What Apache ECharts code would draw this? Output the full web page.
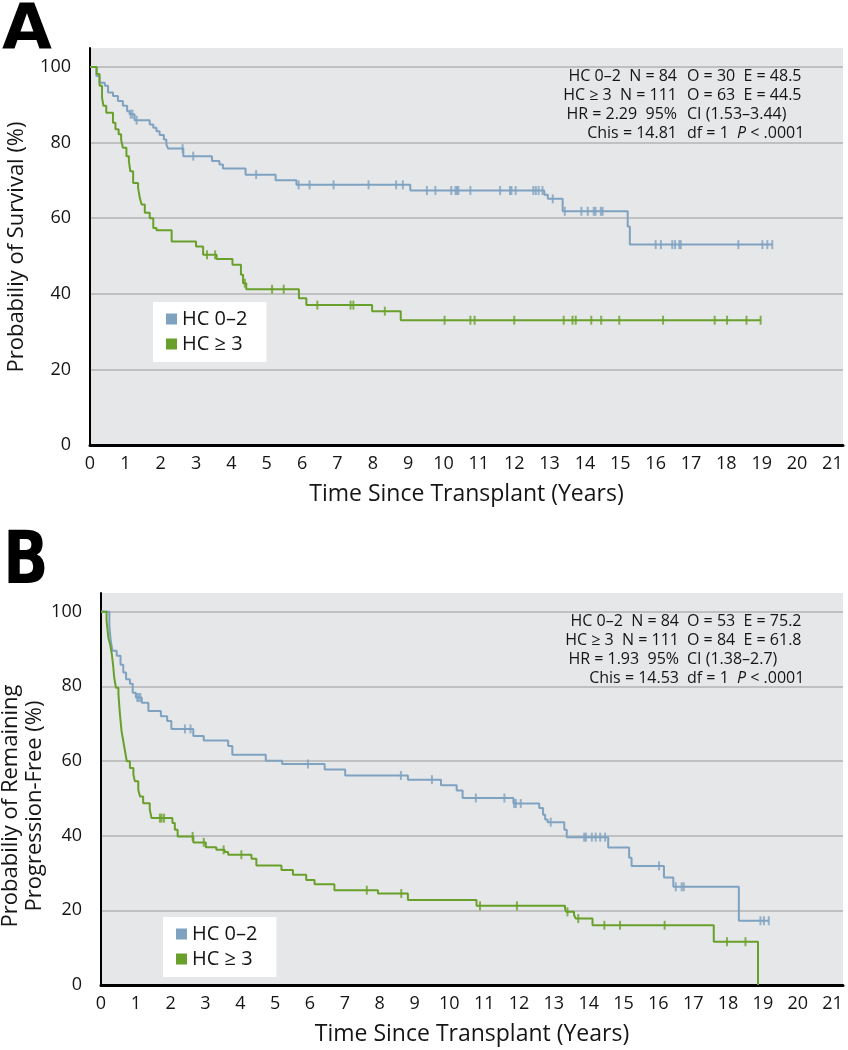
<!DOCTYPE html>
<html><head><meta charset="utf-8">
<script src="https://cdn.jsdelivr.net/npm/echarts@6/dist/echarts.min.js"></script>
<style>html,body{margin:0;padding:0;background:#fff}#c{width:848px;height:1050px}</style>
</head><body><div id="c"></div>
<script>
const seriesNames = ['HC 0–2', 'HC ≥ 3'];
const colors = ['#7fa2c1', '#69a02b'];
const yTicks = [0, 20, 40, 60, 80, 100];
const xTickMax = 21;

// ---- Panel A: overall survival ----
const aLowT = [0,0.18,0.27,0.42,0.51,0.65,0.79,0.93,1.05,1.12,1.26,1.69,1.79,1.88,1.97,2.09,2.16,2.21,2.64,3.45,3.66,3.76,4.40,5.25,5.84,9.06,12.85,12.95,13.37,15.21,15.27,19.3];
const aLowS = [100,97.6,95.8,95.0,93.2,92.3,91.0,89.7,88.3,87.5,85.9,84.8,83.9,83.0,82.0,80.8,79.5,78.4,76.4,75.1,74.2,73.1,71.5,70.0,68.8,67.3,66.2,65.1,61.8,57.8,53.0,53.0];
const aLowCens = [1.15,1.20,1.32,2.62,2.92,4.70,5.90,6.21,6.89,7.88,8.66,8.85,9.53,9.77,10.22,10.34,10.38,10.42,10.76,11.60,11.88,11.92,12.04,12.54,12.61,12.69,12.80,13.09,13.43,13.90,14.08,14.25,14.30,14.45,14.50,16.00,16.15,16.47,16.55,16.67,16.71,18.34,19.02,19.16,19.30];
const aHighT = [0,0.19,0.27,0.34,0.38,0.46,0.65,0.72,0.81,0.88,0.93,1.03,1.10,1.14,1.22,1.36,1.41,1.46,1.55,1.69,1.79,1.88,2.31,3.00,3.20,3.58,4.03,4.27,4.33,4.42,5.91,6.12,7.98,8.79,18.97];
const aHighS = [100,98.1,95.0,91.9,89.7,87.9,85.2,83.5,82.2,80.8,78.6,76.4,75.1,72.4,69.3,68.0,65.3,63.6,61.4,60.0,57.4,56.8,53.8,52.5,50.3,49.2,47.7,45.0,42.8,41.2,38.8,37.0,35.4,33.0,33.0];
const aHighCens = [3.31,3.54,4.38,5.15,5.48,6.43,7.37,7.45,8.34,10.03,10.76,10.88,12.00,13.40,13.65,13.74,14.18,14.46,14.97,16.21,17.67,18.02,18.57,18.97];

// ---- Panel B: progression-free ----
const bLowT = [0,0.24,0.28,0.33,0.45,0.56,0.64,0.72,0.83,0.91,1.00,1.17,1.36,1.72,1.90,2.02,2.65,2.95,3.65,3.77,4.73,5.20,6.42,7.01,8.81,9.76,10.21,10.38,11.84,12.58,12.69,12.75,12.82,13.30,13.37,14.56,15.16,15.23,16.16,16.43,18.31,19.17];
const bLowS = [100,96.2,92.2,89.5,88.2,85.8,83.7,81.9,80.7,78.3,77.0,75.6,73.4,72.0,70.7,68.6,66.7,65.5,64.0,61.7,60.1,59.2,57.7,56.1,55.0,53.5,52.1,50.1,48.6,47.4,45.6,44.3,43.6,41.6,39.6,36.8,34.1,31.9,28.8,26.3,17.2,17.2];
const bLowCens = [1.04,1.08,1.13,2.41,2.57,5.94,8.61,9.50,10.76,11.58,11.86,11.91,12.05,12.91,13.87,13.92,14.09,14.20,14.33,14.47,16.02,16.50,16.67,16.73,18.93,19.03,19.17];
const bHighT = [0,0.16,0.21,0.26,0.31,0.35,0.38,0.43,0.50,0.54,0.59,0.64,0.69,0.74,0.83,0.93,0.97,1.07,1.12,1.21,1.40,1.45,2.05,2.12,2.20,2.65,3.01,3.31,3.55,3.65,4.32,4.46,5.18,5.51,5.89,6.13,6.70,7.95,8.81,10.78,13.32,13.35,13.58,13.63,14.11,17.59,18.86];
const bHighS = [100,97.6,93.1,91.3,88.6,85.5,82.3,79.6,77.9,72.9,68.0,65.3,62.6,59.9,58.1,56.4,54.6,52.3,50.5,48.7,47.0,44.7,43.4,41.6,39.8,38.2,36.9,36.2,35.6,34.9,33.8,32.0,30.8,29.5,28.1,27.0,25.4,24.5,22.8,21.2,20.5,19.6,18.7,17.8,16.0,11.6,0];
const bHighCens = [1.69,1.74,1.81,2.63,2.95,3.52,4.03,7.63,8.62,10.88,11.94,13.39,13.70,14.45,14.90,16.18,17.97,18.50];

// ---- statistics text ----
const statsLeftA  = ['HC 0–2  N = 84', 'HC ≥ 3  N = 111', 'HR = 2.29  95%', 'Chis = 14.81'];
const statsRightA = ['O = 30  E = 48.5', 'O = 63  E = 44.5', 'CI (1.53–3.44)', 'df = 1  {i|P} < .0001'];
const statsLeftB  = ['HC 0–2  N = 84', 'HC ≥ 3  N = 111', 'HR = 1.93  95%', 'Chis = 14.53'];
const statsRightB = ['O = 53  E = 75.2', 'O = 84  E = 61.8', 'CI (1.38–2.7)', 'df = 1  {i|P} < .0001'];

const yNameA = 'Probabiliy of Survival (%)';
const yNameB = 'Probabiliy of Remaining\nProgression-Free (%)';
const xName = 'Time Since Transplant (Years)';

const FONT = '"Open Sans", "Noto Sans", sans-serif';
const TXT = '#151515';

function pairs(T, S) { return T.map((t, i) => [t, S[i]]); }
function levelAt(T, S, t) { let v = S[0]; for (let i = 0; i < T.length; i++) { if (T[i] <= t) v = S[i]; } return v; }
function cens(T, S, C) { return C.map(t => [t, levelAt(T, S, t)]); }

function lineSeries(name, idx, data, color) {
  return { name, type: 'line', step: 'end', xAxisIndex: idx, yAxisIndex: idx, data,
    showSymbol: false, symbol: 'none', lineStyle: { color, width: 2 }, itemStyle: { color },
    clip: false, z: 3, animation: false };
}
function censSeries(name, idx, data, color) {
  return { name, type: 'scatter', xAxisIndex: idx, yAxisIndex: idx, data,
    symbol: 'rect', symbolSize: [2, 9], itemStyle: { color }, z: 4, animation: false };
}
function xAxisCfg(idx) {
  return { gridIndex: idx, type: 'value', min: 0, max: 21.3, interval: 1,
    axisLine: { show: true, onZero: false, lineStyle: { color: '#000', width: 3 } },
    axisTick: { show: false },
    axisLabel: { margin: 10, fontSize: 18, color: TXT, fontFamily: FONT,
      formatter: v => (Number.isInteger(v) && v <= xTickMax) ? String(v) : '' },
    splitLine: { show: false },
    name: xName, nameLocation: 'middle', nameGap: 38,
    nameTextStyle: { fontSize: 23, color: TXT, fontFamily: FONT } };
}
function yAxisCfg(idx) {
  return { gridIndex: idx, type: 'value', min: 0, max: 105, interval: 20,
    axisLine: { show: true, onZero: false, lineStyle: { color: '#000', width: 2 } },
    axisTick: { show: false },
    axisLabel: { margin: 19, fontSize: 18, color: TXT, fontFamily: FONT,
      formatter: v => yTicks.includes(v) ? String(v) : '' },
    splitLine: { show: true, showMinLine: false, showMaxLine: false, lineStyle: { color: '#b3b3b3', width: 1.5 } } };
}
function legendCfg(left, top) {
  return { left, top, orient: 'vertical', backgroundColor: '#fff', padding: [6, 19, 7, 13],
    itemWidth: 11, itemHeight: 11, itemGap: 3, icon: 'rect', selectedMode: false,
    textStyle: { fontSize: 20, color: TXT, fontFamily: FONT, lineHeight: 22 },
    data: seriesNames.map((n, i) => ({ name: n, icon: 'rect', itemStyle: { color: colors[i] } })) };
}
function statsEls(L, R, y0, xr, xl) {
  const els = [];
  L.forEach((t, i) => {
    els.push({ type: 'text', x: xr, y: y0 + i * 19, style: { text: t, fill: TXT, font: '16px ' + FONT, align: 'right', verticalAlign: 'middle' } });
  });
  R.forEach((t, i) => {
    els.push({ type: 'text', x: xl, y: y0 + i * 19, style: { text: t, fill: TXT, font: '16px ' + FONT, align: 'left', verticalAlign: 'middle',
      rich: { i: { fontStyle: 'italic', fontSize: 16, fontFamily: FONT, fill: TXT } } } });
  });
  return els;
}
function yNameEl(text, x, y) {
  return { type: 'text', x, y, rotation: Math.PI / 2,
    style: { text, fill: TXT, font: '22px ' + FONT, align: 'center', verticalAlign: 'middle', lineHeight: 24 } };
}

const chart = echarts.init(document.getElementById('c'), null, { renderer: 'canvas' });
chart.setOption({
  animation: false,
  backgroundColor: '#fff',
  grid: [
    { left: 90, top: 48, width: 753, height: 397, show: true, backgroundColor: '#e6e7e8', borderWidth: 0 },
    { left: 101, top: 593, width: 742, height: 392, show: true, backgroundColor: '#e6e7e8', borderWidth: 0 }
  ],
  xAxis: [xAxisCfg(0), xAxisCfg(1)],
  yAxis: [yAxisCfg(0), yAxisCfg(1)],
  legend: [legendCfg(153, 302), legendCfg(163, 917)],
  series: [
    lineSeries(seriesNames[0], 0, pairs(aLowT, aLowS), colors[0]),
    lineSeries(seriesNames[1], 0, pairs(aHighT, aHighS), colors[1]),
    censSeries(seriesNames[0], 0, cens(aLowT, aLowS, aLowCens), colors[0]),
    censSeries(seriesNames[1], 0, cens(aHighT, aHighS, aHighCens), colors[1]),
    lineSeries(seriesNames[0], 1, pairs(bLowT, bLowS), colors[0]),
    lineSeries(seriesNames[1], 1, pairs(bHighT, bHighS), colors[1]),
    censSeries(seriesNames[0], 1, cens(bLowT, bLowS, bLowCens), colors[0]),
    censSeries(seriesNames[1], 1, cens(bHighT, bHighS, bHighCens), colors[1])
  ],
  graphic: { elements: [
    { type: 'text', x: 2, y: 32, scaleX: 1.04, style: { text: 'A', font: 'bold 62px "DejaVu Sans"', fill: '#000', verticalAlign: 'middle' } },
    { type: 'text', x: 3, y: 564, scaleX: 0.82, style: { text: 'B', font: 'bold 73px "DejaVu Sans"', fill: '#000', verticalAlign: 'middle' } },
    yNameEl(yNameA, 17, 247),
    yNameEl(yNameB, 23, 806),
    ...statsEls(statsLeftA, statsRightA, 76, 677, 687),
    ...statsEls(statsLeftB, statsRightB, 621, 679, 687)
  ] }
});
</script></body></html>
